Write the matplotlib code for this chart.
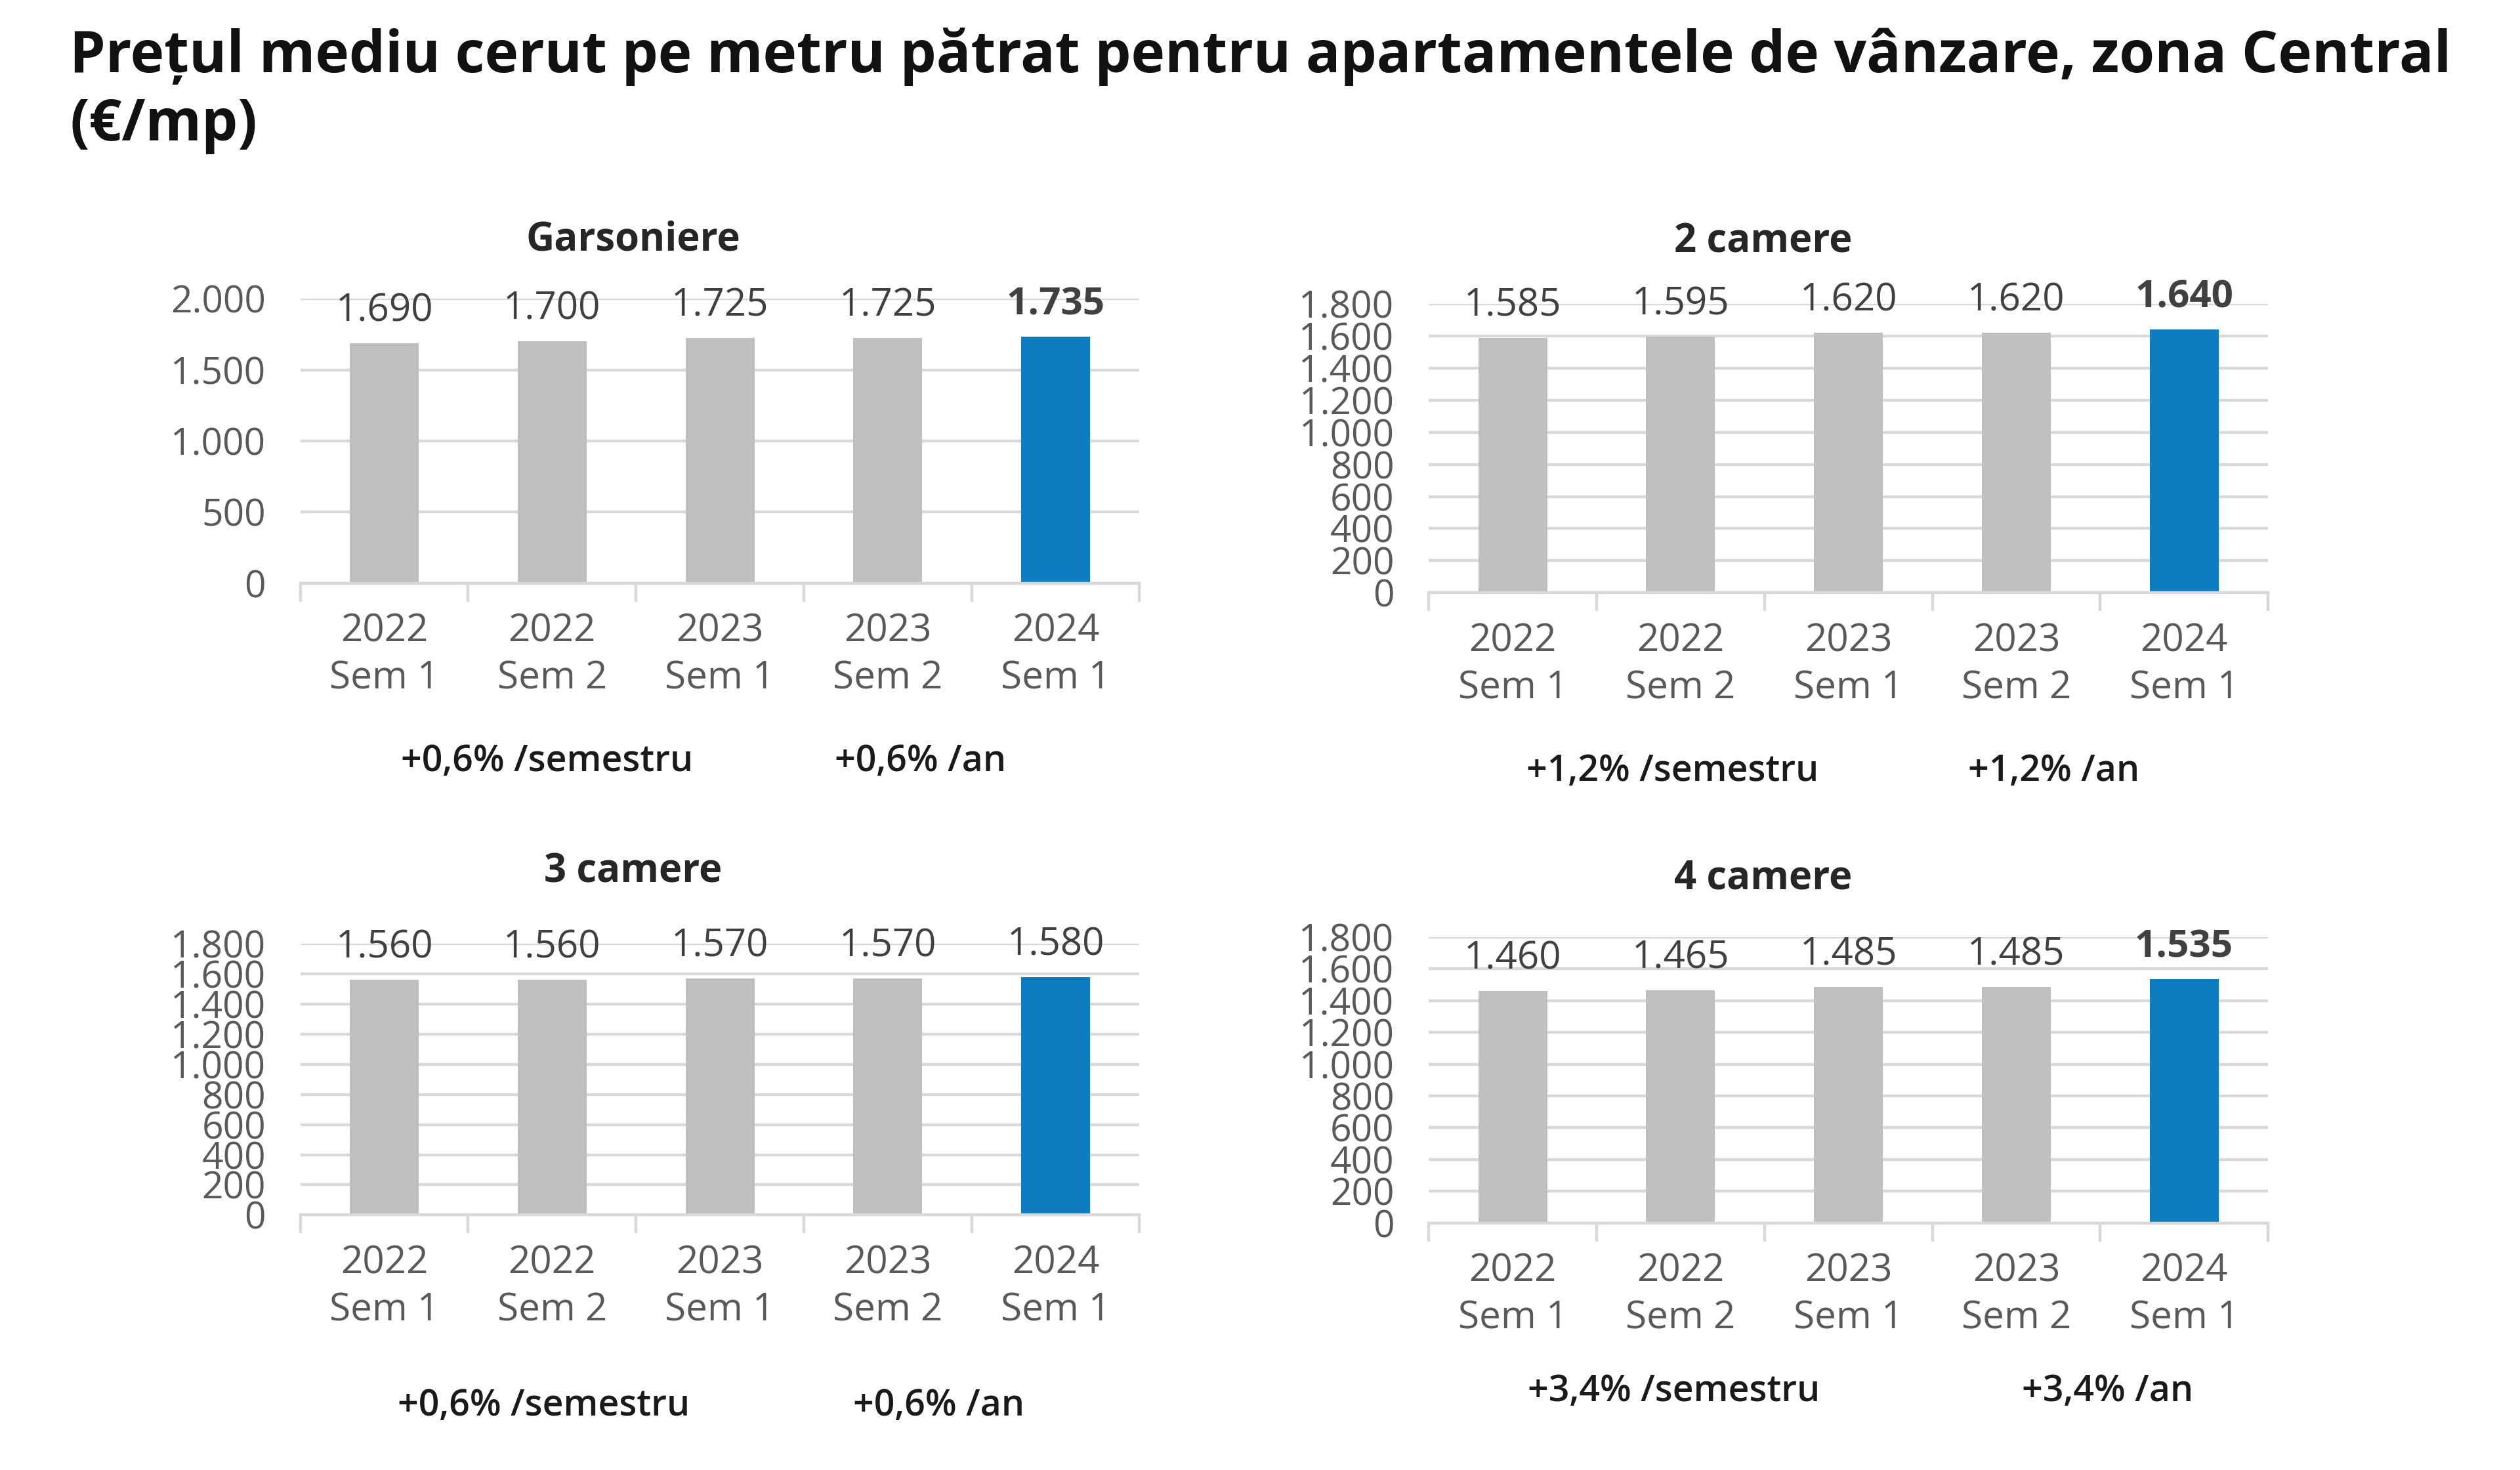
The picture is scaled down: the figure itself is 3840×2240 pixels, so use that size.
"""
Pretul mediu cerut pe metru patrat, zona Central - four small bar charts (Excel style).
"""
import matplotlib
matplotlib.use("Agg")
import matplotlib.pyplot as plt

# categories (semesters)
periods = ["2022\nSem 1", "2022\nSem 2", "2023\nSem 1", "2023\nSem 2", "2024\nSem 1"]

# one series per apartment type
garsoniere = [1690, 1700, 1725, 1725, 1735]
camere_2 = [1585, 1595, 1620, 1620, 1640]
camere_3 = [1560, 1560, 1570, 1570, 1580]
camere_4 = [1460, 1465, 1485, 1485, 1535]

titles = ["Garsoniere", "2 camere", "3 camere", "4 camere"]
bold_last = [True, True, False, True]
change_sem = ["+0,6% /semestru", "+1,2% /semestru", "+0,6% /semestru", "+3,4% /semestru"]
change_an = ["+0,6% /an", "+1,2% /an", "+0,6% /an", "+3,4% /an"]
y_max = [2000, 1800, 1800, 1800]
y_step = [500, 200, 200, 200]

GREY = "#bfbfbf"
BLUE = "#0e7cbf"
GRID = "#d9d9d9"
TICK_TXT = "#595959"
VAL_TXT = "#404040"

plt.rcParams["font.family"] = ["Open Sans", "DejaVu Sans"]

fig = plt.figure(figsize=(19.2, 11.2), dpi=200)

# axes rectangles [left, bottom, width, height] in figure fraction
rects = [
    [0.1192, 0.6033, 0.3330, 0.1934],
    [0.5670, 0.5967, 0.3330, 0.1967],
    [0.1192, 0.1735, 0.3330, 0.1845],
    [0.5670, 0.1680, 0.3330, 0.1945],
]
title_pos = [(0.2513, 0.8365), (0.6997, 0.8354), (0.2513, 0.4066), (0.6997, 0.4022)]
sem_pos = [(0.2171, 0.4818), (0.6637, 0.4751), (0.2158, 0.0431), (0.6643, 0.0530)]
an_pos = [(0.3653, 0.4818), (0.8151, 0.4751), (0.3724, 0.0431), (0.8363, 0.0530)]

series = [garsoniere, camere_2, camere_3, camere_4]

for i, vals in enumerate(series):
    ax = fig.add_axes(rects[i])
    x = list(range(len(periods)))
    colors = [GREY] * (len(vals) - 1) + [BLUE]
    ax.bar(x, vals, width=0.41, color=colors, zorder=3)

    ax.set_xlim(-0.5, len(periods) - 0.5)
    ax.set_ylim(0, y_max[i])
    ax.set_yticks(range(0, y_max[i] + 1, y_step[i]))
    ax.set_yticklabels([f"{v:,}".replace(",", ".") for v in range(0, y_max[i] + 1, y_step[i])])
    ax.yaxis.grid(True, color=GRID, lw=1.6, zorder=0)
    ax.tick_params(axis="y", length=0, pad=19, labelsize=20.5, labelcolor=TICK_TXT)

    # category boundaries get the tick marks, labels sit between them
    ax.set_xticks([k - 0.5 for k in range(len(periods) + 1)])
    ax.set_xticklabels([])
    ax.set_xticks(x, minor=True)
    ax.set_xticklabels(periods, minor=True, linespacing=1.3)
    ax.tick_params(axis="x", which="major", length=10, width=1.6, color=GRID)
    ax.tick_params(axis="x", which="minor", length=0, pad=16, labelsize=21, labelcolor=TICK_TXT)

    for side in ["top", "right", "left"]:
        ax.spines[side].set_visible(False)
    ax.spines["bottom"].set_color(GRID)
    ax.spines["bottom"].set_linewidth(1.6)
    ax.spines["bottom"].set_zorder(4)

    for k, v in enumerate(vals):
        last = k == len(vals) - 1
        ax.annotate(f"{v:,}".replace(",", "."), (k, v), xytext=(0, 7), textcoords="offset points",
                    ha="center", va="bottom", fontsize=21, color=VAL_TXT,
                    fontweight="bold" if (last and bold_last[i]) else "normal")

    fig.text(*title_pos[i], titles[i], ha="center", va="center", fontsize=21.5, fontweight="bold", color="#262626")
    fig.text(*sem_pos[i], change_sem[i], ha="center", va="center", fontsize=20, fontweight="semibold", color="#1a1a1a")
    fig.text(*an_pos[i], change_an[i], ha="center", va="center", fontsize=20, fontweight="semibold", color="#1a1a1a")

fig.text(0.0277, 0.9613, "Prețul mediu cerut pe metru pătrat pentru apartamentele de vânzare, zona Central",
         ha="left", va="center", fontsize=31.4, fontweight="bold", color="#111111")
fig.text(0.0277, 0.9149, "(€/mp)", ha="left", va="center", fontsize=31.4, fontweight="bold", color="#111111")

plt.savefig("out.png", dpi=200, facecolor="white")
plt.close()
print("Saved out.png")
